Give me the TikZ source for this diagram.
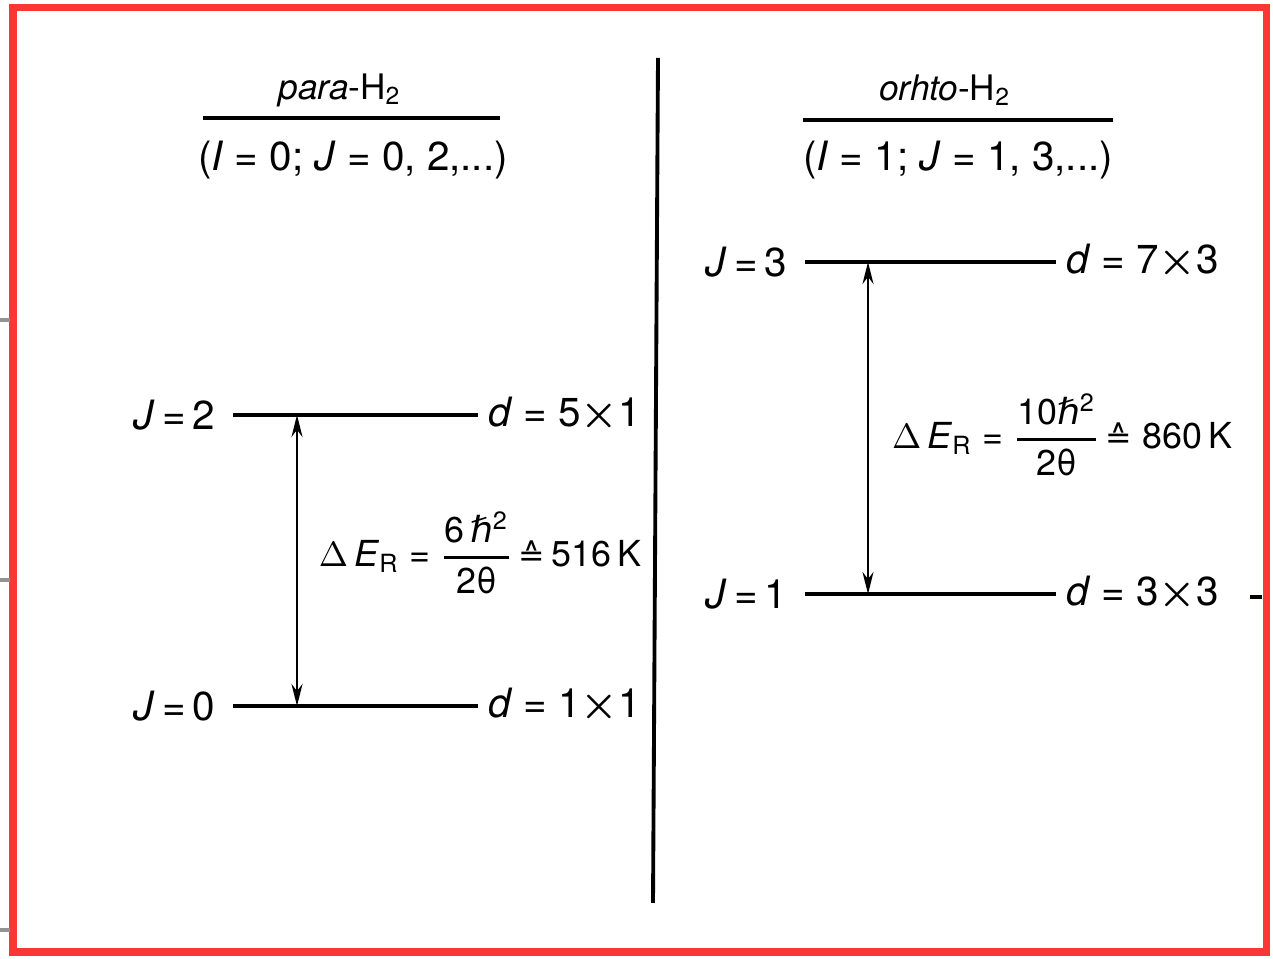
\documentclass[tikz,border=0pt]{standalone}
\usepackage{amsmath}
\usepackage{fontspec}
\setmainfont{TeX Gyre Heros}
\newfontfamily\symfont{DejaVu Sans}
\usetikzlibrary{arrows.meta}

\definecolor{framered}{RGB}{250,55,55}
\newcommand{\hb}{{\symfont\itshape ℏ}}
\newcommand{\eqhat}{{\symfont\fontsize{9}{10}\selectfont ≙}}
\newcommand{\bx}{${\boldsymbol{\times}}$}
\newcommand{\rfrac}[2]{$\genfrac{}{}{0.8pt}{0}{\mbox{#1}}{\mbox{#2}}$}

\begin{document}
\begin{tikzpicture}[
		font=\fontsize{11.5}{14}\selectfont,
		lvl/.style={line width=0.9pt},
		jlbl/.style={anchor=east, inner sep=0pt, outer xsep=1.8mm},
		dlbl/.style={anchor=west, inner sep=0pt, outer xsep=1mm},
		updown/.style={line width=0.8pt, {Stealth[length=2.2mm,width=1.1mm]}-{Stealth[length=2.2mm,width=1.1mm]}},
		hdr/.style={font=\fontsize{10}{12}\selectfont},
		gap/.style={font=\fontsize{10.2}{12}\selectfont, inner sep=0pt},
		stub/.style={gray!85, line width=1.4pt}
	]
		\useasboundingbox (0,0) rectangle (12.73,9.59);
		\draw[framered, line width=2pt] (0.13,0.07) rectangle (12.66,9.51);
		\foreach \y in {6.39, 3.79, 0.29} {
			\draw[stub] (0,\y) -- (0.1,\y);
		}
		\draw[line width=1.2pt] (12.50,3.62) -- (12.62,3.62);

		\draw[line width=1.1pt] (6.58,9.01) -- (6.53,0.56);

		\node[hdr] (ph) at (3.40,8.69) {\textit{para}-H\textsubscript{2}};
		\draw[lvl] (2.03,8.41) -- (5.00,8.41);
		\node (ps) at (3.53,7.99) {(\textit{I} = 0; \textit{J} = 0, 2,...)};
		\node[hdr] (oh) at (9.45,8.69) {\textit{orhto}-H\textsubscript{2}};
		\draw[lvl] (8.03,8.39) -- (11.13,8.39);
		\node (os) at (9.58,7.99) {(\textit{I} = 1; \textit{J} = 1, 3,...)};

		\node[jlbl] (J2) at (2.33,5.44) {\textit{J}\,=\,2};
		\node[dlbl] (d2) at (4.78,5.44) {\textit{d} = 5\bx1};
		\node[jlbl] (J0) at (2.33,2.53) {\textit{J}\,=\,0};
		\node[dlbl] (d0) at (4.78,2.53) {\textit{d} = 1\bx1};
		\node[jlbl] (J3) at (8.05,6.97) {\textit{J}\,=\,3};
		\node[dlbl] (d3) at (10.56,6.97) {\textit{d} = 7\bx3};
		\node[jlbl] (J1) at (8.05,3.65) {\textit{J}\,=\,1};
		\node[dlbl] (d1) at (10.56,3.65) {\textit{d} = 3\bx3};
		\foreach \a/\b in {J2/d2, J0/d0, J3/d3, J1/d1} {
			\draw[lvl] (\a.east) -- (\a.east -| \b.west);
		}

		\coordinate (a2) at (2.97,5.44);
		\coordinate (a0) at (2.97,2.53);
		\coordinate (a3) at (8.68,6.97);
		\coordinate (a1) at (8.68,3.65);
		\draw[updown] (a2) -- (a0);
		\draw[updown] (a3) -- (a1);

		\node[gap] (EL) at (4.80,4.06) {$\Delta$\,\textit{E}\textsubscript{R} = \rfrac{6\,\hb\textsuperscript{2}}{2θ}\,\eqhat\,516\,K};
		\node[gap] (ER) at (10.62,5.24) {$\Delta$\,\textit{E}\textsubscript{R} = \rfrac{10\hb\textsuperscript{2}}{2θ}\,\eqhat\ 860\,K};
	\end{tikzpicture}
\end{document}
